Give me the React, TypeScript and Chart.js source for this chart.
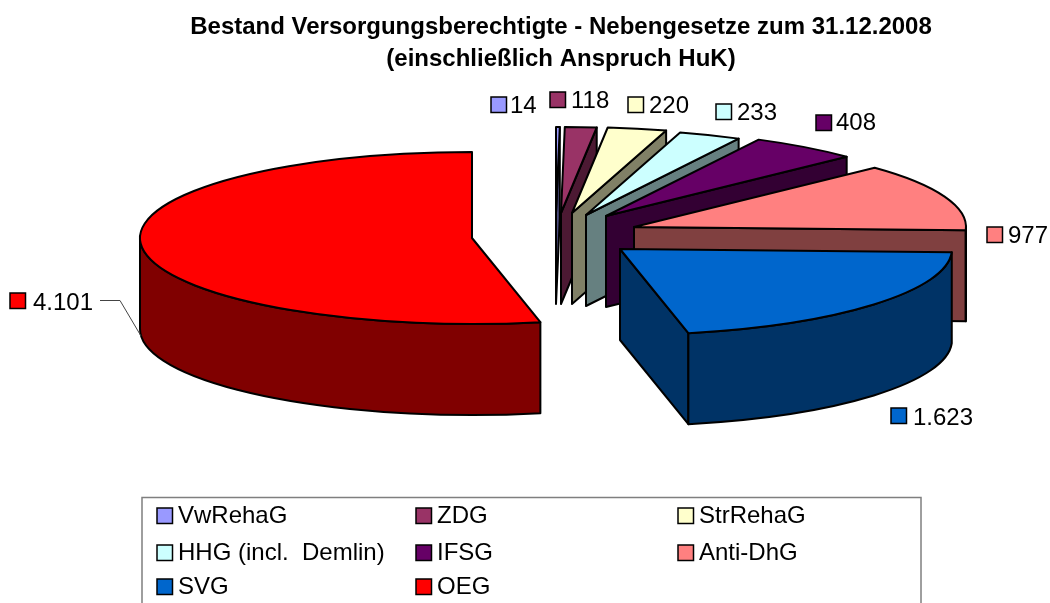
import React, { useEffect, useRef } from "react";
import { Chart, registerables } from "chart.js";

Chart.register(...registerables);

const categories = ["VwRehaG", "ZDG", "StrRehaG", "HHG (incl.  Demlin)", "IFSG", "Anti-DhG", "SVG", "OEG"];
const values = [14, 118, 220, 233, 408, 977, 1623, 4101];
const sliceColors = ["#9999FF", "#993366", "#FFFFCC", "#CCFFFF", "#660066", "#FF8080", "#0066CC", "#FF0000"];
const wallColors = ["#4C4C80", "#4C1933", "#808066", "#668080", "#330033", "#804040", "#003366", "#800000"];
const titleLines = ["Bestand Versorgungsberechtigte - Nebengesetze zum 31.12.2008", "(einschließlich Anspruch HuK)"];

const FONT = '"Liberation Sans", Arial, sans-serif';
const RX = 332;
const RY = 86;
const DEPTH = 91;
const LABEL_PX = 24;

// Where each exploded slice's apex ends up on the page.
const apexes: [number, number][] = [
  [556, 213], [561, 213], [572, 213], [586, 215], [606, 216], [634, 227], [620, 249], [472, 238],
];
// Data label swatch (left, top) and text x, y.
const labelPlaces: [number, number, number, number][] = [
  [491, 97, 510, 106], [550, 92, 571, 101], [628, 97, 649, 106], [716, 104, 737, 113],
  [816, 115, 836, 123], [987, 227, 1008, 236], [891, 408, 913, 418], [10, 293, 33, 303],
];
const legendCols = [157, 416, 678];
const legendRows = [516, 553, 587];

const pie3d = {
  id: "pie3d",
  beforeDraw(chart: any) {
    const { ctx, width, height } = chart;
    ctx.save();
    ctx.fillStyle = "#fff";
    ctx.fillRect(0, 0, width, height);
    ctx.restore();
  },
  beforeDatasetsDraw(chart: any) {
    const { ctx } = chart;
    const arcs = chart.getDatasetMeta(0).data;
    const order = [7, 0, 1, 2, 3, 4, 5, 6];
    ctx.save();
    ctx.lineJoin = "round";
    ctx.strokeStyle = "#000";
    ctx.lineWidth = 2;
    for (const i of order) {
      const arc = arcs[i];
      const [ax, ay] = apexes[i];
      const a0 = arc.startAngle;
      const a1 = arc.endAngle;
      const px = (t: number) => ax + RX * Math.cos(t);
      const py = (t: number) => ay + RY * Math.sin(t);
      ctx.fillStyle = wallColors[i];
      const face = (t: number) => {
        ctx.beginPath();
        ctx.moveTo(ax, ay);
        ctx.lineTo(px(t), py(t));
        ctx.lineTo(px(t), py(t) + DEPTH);
        ctx.lineTo(ax, ay + DEPTH);
        ctx.closePath();
        ctx.fill();
        ctx.stroke();
      };
      if (Math.cos(a0) < -1e-6) face(a0);
      if (Math.cos(a1) > 1e-6) face(a1);
      const lo = Math.max(a0, 0);
      const hi = Math.min(a1, Math.PI);
      if (lo < hi) {
        ctx.beginPath();
        ctx.ellipse(ax, ay, RX, RY, 0, lo, hi);
        ctx.ellipse(ax, ay + DEPTH, RX, RY, 0, hi, lo, true);
        ctx.closePath();
        ctx.fill();
        ctx.stroke();
      }
      // Top face: the library's own arc, squashed onto the ellipse.
      ctx.save();
      ctx.translate(ax, ay);
      ctx.scale(RX / arc.outerRadius, RY / arc.outerRadius);
      ctx.translate(-arc.x, -arc.y);
      arc.draw(ctx);
      ctx.restore();
      ctx.beginPath();
      ctx.moveTo(ax, ay);
      ctx.ellipse(ax, ay, RX, RY, 0, a0, a1);
      ctx.closePath();
      ctx.stroke();
    }
    ctx.restore();
    return false;
  },
  afterDraw(chart: any) {
    const { ctx, height } = chart;
    const swatch = (x: number, y: number, i: number) => {
      ctx.fillStyle = sliceColors[i];
      ctx.strokeStyle = "#000";
      ctx.lineWidth = 1.5;
      ctx.fillRect(x, y, 15.5, 15.5);
      ctx.strokeRect(x, y, 15.5, 15.5);
    };
    ctx.save();
    ctx.textBaseline = "middle";
    ctx.textAlign = "left";
    ctx.font = `${LABEL_PX}px ${FONT}`;
    values.forEach((v, i) => {
      const [sx, sy, tx, ty] = labelPlaces[i];
      swatch(sx, sy, i);
      ctx.fillStyle = "#000";
      ctx.fillText(v.toLocaleString("de-DE"), tx, ty);
    });
    // Leader line of the largest slice
    ctx.strokeStyle = "#444";
    ctx.lineWidth = 1;
    ctx.beginPath();
    ctx.moveTo(100, 300.5);
    ctx.lineTo(120, 300.5);
    ctx.lineTo(141, 336);
    ctx.stroke();
    // Legend box, running off the page's lower edge
    ctx.strokeStyle = "#7f7f7f";
    ctx.lineWidth = 1.5;
    ctx.strokeRect(142, 497.5, 779, height);
    categories.forEach((c, i) => {
      const x = legendCols[i % 3];
      const y = legendRows[Math.floor(i / 3)];
      swatch(x, y - 8, i);
      ctx.fillStyle = "#000";
      ctx.fillText(c, x + 21, y);
    });
    ctx.restore();
  },
};

export default function App() {
  const ref = useRef<HTMLCanvasElement>(null);
  useEffect(() => {
    const chart = new Chart(ref.current as HTMLCanvasElement, {
      type: "pie",
      data: {
        labels: categories,
        datasets: [{ data: values, backgroundColor: sliceColors, borderWidth: 0 }],
      },
      options: {
        responsive: false,
        animation: false,
        layout: { padding: { left: 72 } },
        plugins: {
          legend: { display: false },
          tooltip: { enabled: false },
          title: {
            display: true,
            text: titleLines,
            color: "#000",
            font: { family: FONT, size: 24, weight: "bold", lineHeight: 1.33 },
            padding: { top: 11, bottom: 0 },
          },
        },
      },
      plugins: [pie3d],
    } as any);
    return () => chart.destroy();
  }, []);
  return (
    <div style={{ position: "fixed", left: 0, top: 0, width: 1050, height: 603, overflow: "hidden" }}>
      <canvas ref={ref} width={1050} height={603} style={{ display: "block" }} />
    </div>
  );
}
